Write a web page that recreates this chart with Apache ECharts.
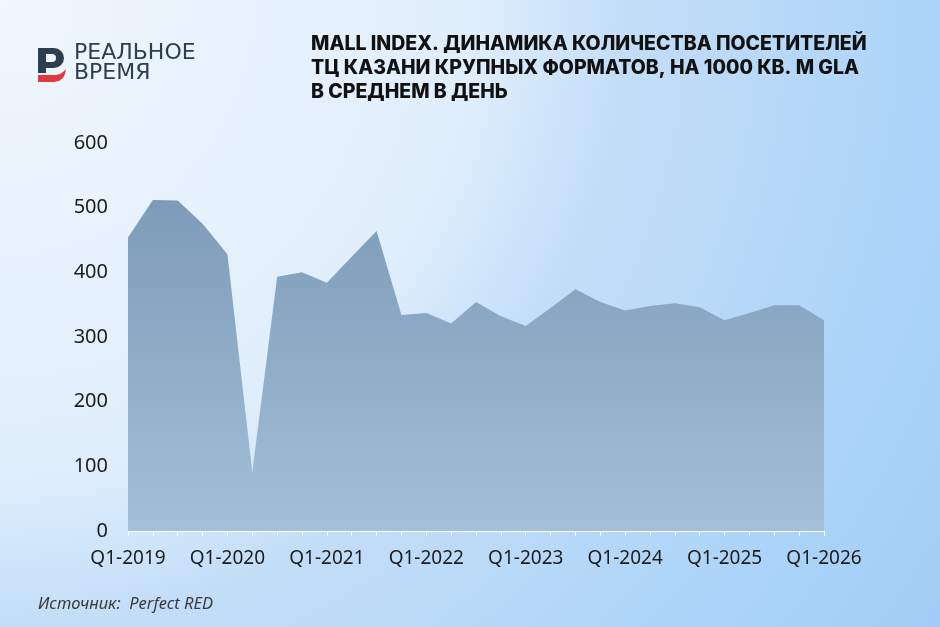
<!DOCTYPE html>
<html>
<head>
<meta charset="utf-8">
<script src="https://cdn.jsdelivr.net/npm/echarts@6/dist/echarts.min.js"></script>
<style>
html,body{margin:0;padding:0;}
#chart{width:940px;height:627px;}
</style>
</head>
<body>
<div id="chart"></div>
<script>
const categories = [
  'Q1-2019','Q2-2019','Q3-2019','Q4-2019',
  'Q1-2020','Q2-2020','Q3-2020','Q4-2020',
  'Q1-2021','Q2-2021','Q3-2021','Q4-2021',
  'Q1-2022','Q2-2022','Q3-2022','Q4-2022',
  'Q1-2023','Q2-2023','Q3-2023','Q4-2023',
  'Q1-2024','Q2-2024','Q3-2024','Q4-2024',
  'Q1-2025','Q2-2025','Q3-2025','Q4-2025',
  'Q1-2026'
];
const visitors = [
  454,512,511,475,
  428,91,393,400,
  384,424,464,334,
  337,321,354,332,
  317,345,374,354,
  341,348,352,346,
  326,337,349,349,
  326
];
const titleLines = [
  'MALL INDEX. ДИНАМИКА КОЛИЧЕСТВА ПОСЕТИТЕЛЕЙ',
  'ТЦ КАЗАНИ КРУПНЫХ ФОРМАТОВ, НА 1000 КВ. М GLA',
  'В СРЕДНЕМ В ДЕНЬ'
];
const sourceText = 'Источник:  Perfect RED';
const logoLines = ['РЕАЛЬНОЕ', 'ВРЕМЯ'];

const chart = echarts.init(document.getElementById('chart'));
const option = {
  animation: false,
  backgroundColor: {
    type: 'radial', x: 0, y: 0, r: 1.8,
    colorStops: [
      {offset: 0, color: '#f0f7fe'},
      {offset: 0.42, color: '#dfeefc'},
      {offset: 0.56, color: '#c2ddf8'},
      {offset: 0.83, color: '#acd4f8'},
      {offset: 1, color: '#a2cdf6'}
    ]
  },
  grid: {left: 128, right: 116, top: 143, bottom: 96},
  xAxis: {
    type: 'category',
    data: categories,
    boundaryGap: false,
    axisLine: {show: true, lineStyle: {color: '#ffffff', width: 1}},
    axisTick: {show: true, interval: 0, length: 5, lineStyle: {color: '#ffffff'}},
    axisLabel: {
      interval: 3, margin: 18, color: '#1c1c1c',
      fontFamily: 'Noto Sans', fontSize: 19
    },
    splitLine: {show: false}
  },
  yAxis: {
    type: 'value', min: 0, max: 600, interval: 100,
    axisLine: {show: false}, axisTick: {show: false},
    splitLine: {show: false},
    axisLabel: {margin: 20, color: '#1c1c1c', fontFamily: 'Noto Sans', fontSize: 20}
  },
  series: [{
    type: 'line',
    data: visitors,
    symbol: 'none',
    lineStyle: {width: 0},
    areaStyle: {
      opacity: 1,
      color: {
        type: 'linear', x: 0, y: 0, x2: 0, y2: 1,
        colorStops: [
          {offset: 0, color: '#7d9cb9'},
          {offset: 1, color: '#a4bfd8'}
        ]
      }
    }
  }],
  graphic: [
    {type: 'rect', shape: {x: 38, y: 48, width: 8, height: 25}, style: {fill: '#2d3e50'}},
    {type: 'rect', shape: {x: 38, y: 48, width: 26, height: 20, r: [0, 10, 10, 0]}, style: {fill: '#2d3e50'}},
    {type: 'rect', shape: {x: 46, y: 54, width: 10, height: 8, r: [0, 4, 4, 0]}, style: {fill: '#eef6fe'}},
    {type: 'polygon', shape: {points: [[38, 75], [56, 75], [60, 74], [63, 72], [66, 69], [65, 74], [63, 78], [59, 81], [54, 82], [38, 82]]},
     style: {fill: '#e03a3e'}},
    {type: 'text', left: 74, top: 42, style: {text: logoLines[0], fill: '#2d3e50', font: '400 22px "DejaVu Sans"'}},
    {type: 'text', left: 74, top: 62, style: {text: logoLines[1], fill: '#2d3e50', font: '400 22px "DejaVu Sans"'}},
    {type: 'text', left: 311, top: 34, style: {text: titleLines[0], fill: '#111111', font: '800 19.5px Inter'}},
    {type: 'text', left: 311, top: 58, style: {text: titleLines[1], fill: '#111111', font: '800 19.5px Inter'}},
    {type: 'text', left: 311, top: 82, style: {text: titleLines[2], fill: '#111111', font: '800 19.5px Inter'}},
    {type: 'text', left: 38, top: 596, style: {text: sourceText, fill: '#3a3a3a', font: 'italic 16.5px "Noto Sans"'}}
  ]
};
chart.setOption(option);
</script>
</body>
</html>
